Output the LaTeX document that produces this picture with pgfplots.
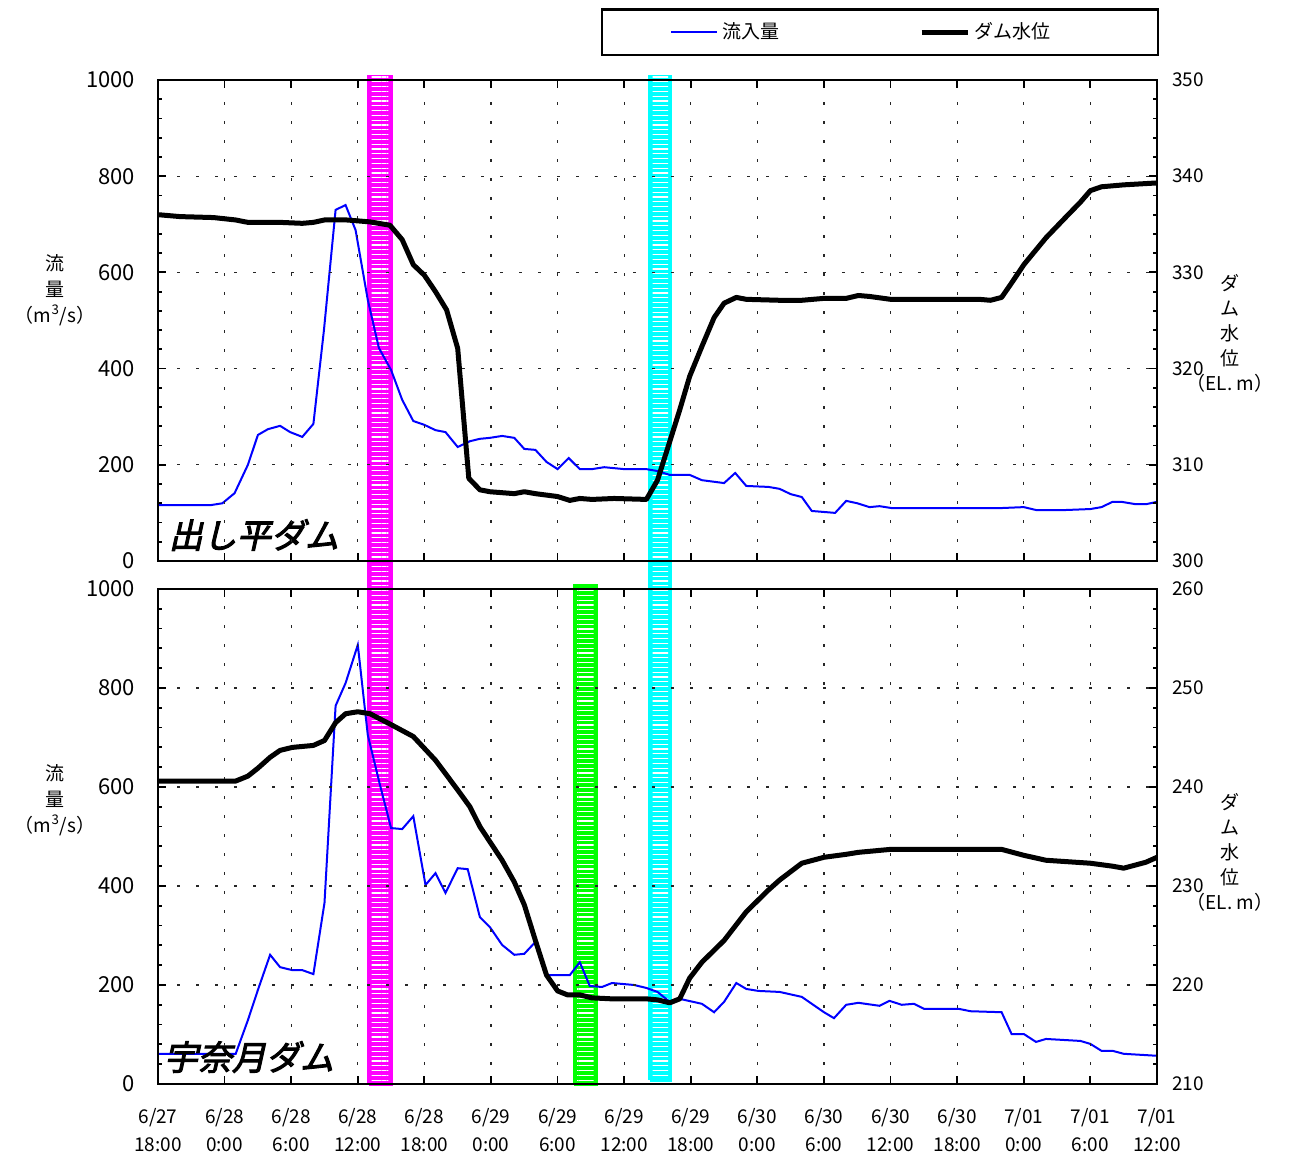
\documentclass[border=0pt]{standalone}
\usepackage{fontspec}
\setmainfont{Noto Sans CJK JP}
\newfontfamily\damfont[FakeSlant=0.22,FakeBold=3]{Noto Sans CJK JP}
\usepackage{pgfplots}
\pgfplotsset{compat=1.18}
\usetikzlibrary{patterns.meta}

\definecolor{bandM}{RGB}{255,0,255}
\definecolor{bandC}{RGB}{0,255,255}
\definecolor{bandG}{RGB}{0,255,0}

\pgfplotsset{
  panel/.style={
    scale only axis, width=499.5pt,
    xmin=0, xmax=90, xtick={0,6,...,90},
    tick align=inside, major tick length=4pt, minor tick length=2pt,
    every tick/.style={line width=0.9pt, black},
    axis line style={-, line width=1.4pt},
    /pgf/number format/assume math mode=true,
    /pgf/number format/1000 sep={},
    clip=false,
  },
  leftax/.style={
    ymin=0, ymax=1000, ytick={0,200,...,1000}, minor y tick num=4,
    ytick pos=left, xtick pos=both,
    xmajorgrids, ymajorgrids, axis on top,
    major grid style={dash pattern=on 1.7pt off 7.8pt, line width=0.6pt, black!85},
    yticklabel style={font=\fontsize{11}{12}\selectfont, xshift=-8pt},
    every axis y label/.style={at={(axis description cs:-0.103,#1)}, anchor=center,
      align=center, font=\fontsize{9.5}{13}\selectfont},
    ylabel={流\\量\\（m\textsuperscript{3}/s）},
  },
  rightax/.style={
    axis y line*=right, axis x line=none,
    minor y tick num=4,
    yticklabel style={font=\fontsize{9.5}{11}\selectfont, xshift=4pt},
    every axis y label/.style={at={(axis description cs:1.073,#1)}, anchor=center,
      align=center, font=\fontsize{9.5}{12.5}\selectfont},
    ylabel={ダ\\ム\\水\\位\\（EL. m）},
  },
  bandfill/.style={fill=#1, draw=#1, line width=1.6pt},
  bandlines/.style={draw=none, pattern={Lines[angle=0,distance=2.4pt,line width=0.6pt]},
    pattern color=white},
  inflow/.style={blue, line width=1pt},
  level/.style={black, line width=2.5pt, line join=round},
}

\begin{document}
\begin{tikzpicture}
\useasboundingbox (0,0) rectangle (648pt,578.5pt);

% ---------- top panel: 出し平ダム ----------
\begin{axis}[panel, leftax=0.563, at={(79pt,298pt)}, anchor=south west, height=240.5pt,
  xticklabels={}]
\addplot[bandfill=bandM] coordinates {(19,-60)(21,-60)(21,1008)(19,1008)(19,-60)};
\addplot[bandlines] coordinates {(19.25,-60)(20.75,-60)(20.75,1008)(19.25,1008)(19.25,-60)};
\addplot[bandfill=bandC] coordinates {(44.3,-60)(46.2,-60)(46.2,1008)(44.3,1008)(44.3,-60)};
\addplot[bandlines] coordinates {(44.55,-60)(45.95,-60)(45.95,1008)(44.55,1008)(44.55,-60)};
\addplot[inflow] coordinates {
(0,116)(4.7,116)(5.8,120)(6.9,141)(8.1,200)(9,262)(9.9,274)(11,281)(11.9,268)(13,258)
(14,285)(14.95,480)(16,730)(16.9,740)(17.8,688)(18.9,543)(19.9,443)(21,397)(22,335)(23,291)
(24,283)(25,272)(25.9,268)(27,237)(28.1,249)(29,254)(29.9,256)(31,260)(32.1,256)(33,233)
(34,231)(35,206)(36,191)(37,214)(38,191)(39.1,191)(40.2,195)(42,191)(44,191)(45,187)
(46.1,179)(47.9,179)(49,168)(51,162)(52,183)(53,156)(55,154)(56,150)(57,139)(58,133)
(58.9,104)(61,100)(62,125)(63,120)(64.1,112)(65,114)(66.1,110)(75.9,110)(78,112)(79.1,106)
(81.8,106)(84,108)(85,112)(86,123)(86.8,123)(88.1,118)(89,118)(90,123)};
\node[font=\damfont\fontsize{17}{17}\selectfont] at (axis description cs:0.096,0.054) {出し平ダム};
\end{axis}

\begin{axis}[panel, rightax=0.474, at={(79pt,298pt)}, anchor=south west, height=240.5pt,
  ymin=300, ymax=350, ytick={300,310,...,350},
  legend columns=2,
  legend image code/.code={\draw[#1] (0pt,0pt) -- (23pt,0pt);},
  legend style={at={(axis description cs:0.4434,1.05)}, anchor=south west,
    draw=black, line width=1.2pt, inner xsep=34pt, inner ysep=4.5pt,
    font=\fontsize{9.5}{11}\selectfont,
    /tikz/every even column/.append style={column sep=68pt}}]
\addlegendimage{inflow}
\addlegendentry{流入量}
\addplot[level] coordinates {
(0,336.0)(2,335.8)(5,335.7)(7,335.45)(8.1,335.2)(11,335.2)(13,335.1)(14,335.2)(15,335.45)
(17,335.45)(19.1,335.25)(20.9,334.9)(22,333.4)(23,330.8)(24,329.7)(25,328)(26,326.1)(27,322.1)
(28,308.6)(29,307.4)(29.9,307.2)(32.1,307.0)(33,307.2)(34,307.0)(36,306.7)(37.1,306.3)
(38,306.5)(39.1,306.4)(41.1,306.5)(44,306.4)(45,308.4)(46.1,312.4)(47,315.7)(47.9,319.2)
(49,322.3)(50.1,325.3)(51,326.8)(52.1,327.4)(53,327.2)(56,327.1)(58,327.1)(60,327.3)(62,327.3)
(63.1,327.6)(64.1,327.5)(66,327.2)(74,327.2)(75,327.1)(76,327.4)(76.9,328.9)(78,330.8)
(80,333.6)(82,336.0)(83.1,337.3)(84,338.5)(85,338.9)(87,339.1)(90,339.3)};
\addlegendentry{\makebox[56pt][l]{ダム水位}}
\end{axis}

% ---------- bottom panel: 宇奈月ダム ----------
\begin{axis}[panel, leftax=0.574, at={(79pt,36.5pt)}, anchor=south west, height=247.5pt,
  xticklabels={{6/27\\18:00},{6/28\\0:00},{6/28\\6:00},{6/28\\12:00},{6/28\\18:00},
    {6/29\\0:00},{6/29\\6:00},{6/29\\12:00},{6/29\\18:00},{6/30\\0:00},{6/30\\6:00},
    {6/30\\12:00},{6/30\\18:00},{7/01\\0:00},{7/01\\6:00},{7/01\\12:00}},
  xticklabel style={align=center, font=\fontsize{9.5}{14}\selectfont, yshift=-8.5pt}]
\addplot[bandfill=bandM] coordinates {(19,0)(21,0)(21,1000)(19,1000)(19,0)};
\addplot[bandlines] coordinates {(19.25,4)(20.75,4)(20.75,1000)(19.25,1000)(19.25,4)};
\addplot[bandfill=bandC] coordinates {(44.3,8)(46.2,8)(46.2,1000)(44.3,1000)(44.3,8)};
\addplot[bandlines] coordinates {(44.55,12)(45.95,12)(45.95,1000)(44.55,1000)(44.55,12)};
\addplot[bandfill=bandG] coordinates {(37.5,0)(39.5,0)(39.5,1006)(37.5,1006)(37.5,0)};
\addplot[bandlines] coordinates {(37.75,4)(39.25,4)(39.25,1002)(37.75,1002)(37.75,4)};
\addplot[inflow] coordinates {
(0,61)(7,61)(8.1,129)(9,190)(10.1,261)(11,236)(12.1,230)(13,230)(14,222)(15,366)(16,764)
(16.9,810)(18,887)(18.9,705)(20,604)(21,517)(22,515)(23,541)(24.1,402)(25,426)(25.9,386)
(27,436)(27.9,434)(29,337)(29.9,317)(31,281)(32.1,261)(33,263)(34,287)(35,220)(37.1,220)
(38,246)(38.9,198)(40,196)(40.9,204)(42.9,200)(44,194)(45,186)(46.1,166)(47,172)(49,162)
(50.1,145)(51,166)(52.1,204)(53,192)(54.1,188)(56,186)(58,176)(58.9,162)(60,145)(60.9,133)
(62,160)(63.1,164)(65,158)(65.9,168)(67,160)(68.1,162)(69,152)(72.1,152)(73.2,147)(76,145)
(76.9,101)(78,101)(79.1,85)(80,91)(83.1,87)(84,81)(85,67)(86,67)(87,61)(90,57)};
\node[font=\damfont\fontsize{17}{17}\selectfont] at (axis description cs:0.091,0.0545) {宇奈月ダム};
\end{axis}

\begin{axis}[panel, rightax=0.467, at={(79pt,36.5pt)}, anchor=south west, height=247.5pt,
  ymin=210, ymax=260, ytick={210,220,...,260}]
\addplot[level] coordinates {
(0,240.6)(7,240.6)(8.1,241.1)(9,241.9)(10.1,243.0)(11,243.7)(12.1,244.0)(14,244.2)(15,244.7)
(16,246.5)(16.9,247.4)(18,247.6)(19.1,247.4)(21,246.3)(23,245.1)(25,242.7)(27,239.7)(28.1,238.0)
(29,236.0)(31,232.6)(32.1,230.4)(33,228.1)(34,224.5)(35,221.0)(36,219.4)(36.9,219.0)(38,219.0)
(39.1,218.7)(40.9,218.6)(44,218.6)(45,218.5)(46.1,218.2)(47,218.6)(47.9,220.7)(49,222.3)
(51,224.5)(53,227.4)(55,229.6)(56,230.6)(58,232.3)(60,232.9)(62,233.2)(63.1,233.4)(66,233.7)
(69,233.7)(76,233.7)(78,233.1)(80,232.6)(84,232.3)(86,232.0)(87,231.8)(89,232.4)(90,232.9)};
\end{axis}
\end{tikzpicture}
\end{document}
